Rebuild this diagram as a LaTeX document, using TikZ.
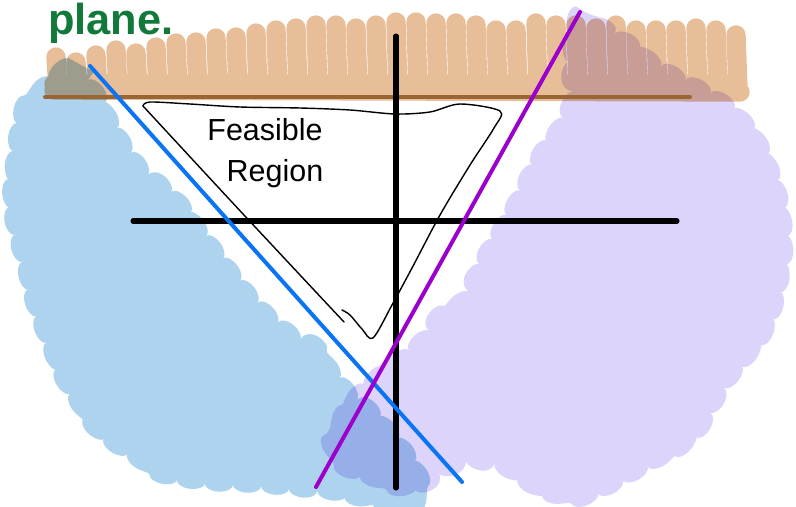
\documentclass[tikz,border=0pt]{standalone}
\usepackage{fontspec}
\setmainfont{Liberation Sans}
\definecolor{skorange}{RGB}{232,190,152}
\definecolor{skblue}{RGB}{174,211,238}
\definecolor{sklilac}{RGB}{220,212,250}
\definecolor{skbrown}{RGB}{153,102,51}
\definecolor{skline}{RGB}{10,116,245}
\definecolor{skpurple}{RGB}{155,0,204}
\definecolor{skgreen}{RGB}{17,122,58}
\usetikzlibrary{positioning,decorations.pathmorphing}
\tikzset{
  scribble/.style={decorate,decoration={bumps,segment length=48pt,amplitude=6pt}},
  penline/.style={line width=3.4pt,line cap=round},
  axisline/.style={black,line width=4.3pt,line cap=round},
  thinpen/.style={black,line width=1.2pt,line cap=round,line join=round}
}

\begin{document}
\begin{tikzpicture}[x=0.03cm,y=-0.03cm]
  \useasboundingbox (0,0) rectangle (796,506);
  \begin{scope}[blend mode=multiply]
    \fill[skblue,scribble] plot[smooth cycle,tension=0.5] coordinates {(70,64) (88,80) (104,106) (134,156) (175,196) (210,241) (250,293) (280,323) (310,341) (345,385) (372,410) (400,442) (422,478) (418,496) (400,502) (367,500) (333,494) (267,487) (213,484) (167,477) (133,457) (100,434) (67,388) (50,351) (33,305) (23,265) (14,232) (10,190) (19,118) (40,88)};
    \fill[sklilac,scribble] plot[smooth cycle,tension=0.5] coordinates {(575,22) (615,34) (660,65) (718,98) (752,130) (776,180) (786,235) (780,290) (764,335) (728,383) (708,418) (685,444) (648,466) (610,487) (584,497) (547,494) (510,473) (470,463) (440,478) (415,488) (385,483) (348,470) (334,450) (341,416) (365,386) (410,349) (430,324) (458,300) (482,258) (515,200) (532,165) (555,130) (566,105)};
    \draw[skorange,line width=16.5pt,line cap=round,line join=round]
      (54,84) -- (738,84) (54,90) -- (740,92)
      \foreach \x/\t in {57/47,77/52,97/45,117/40,137/43,157/37,177/33,197/32,217/28,237/27,257/23,277/20,297/18,317/15,337/15,357/18,377/15,397/12,417/12,437/13,457/13,477/15,497/20,517/20,537/13,557/15,577/15,597/18,617/15,637/20,657/20,677/20,697/18,717/20,737/25}
        { ({\x-1},{\t+10}) -- ({\x+1},90) };
  \end{scope}
  % lines of the sketch
  \draw[skbrown,penline] (45,97) -- (690,97);
  \draw[axisline] (396,36) -- (396,488);
  \draw[axisline] (133,221) -- (677,221);
  \draw[skline,penline] (90,66) -- (462,482);
  \draw[skpurple,penline] (580,12) -- (316,487);
  % feasible region outline
  \draw[thinpen] plot[smooth,tension=0.5] coordinates {(143,106) (150,102) (190,104) (240,107) (300,108) (350,110) (395,114) (430,112) (460,104) (500,111) (494,128) (470,165) (440,215) (412,268) (392,305) (373,338) (362,329) (350,315) (342,310)};
  \draw[thinpen] plot[smooth,tension=0.5] coordinates {(143,106) (230,200) (300,275) (344,322)};
  \node[font=\fontsize{26}{30}\selectfont,inner sep=0pt] (feasible) at (265,130) {Feasible};
  \node[font=\fontsize{26}{30}\selectfont,inner sep=0pt] (region) at (275,174) {Region};
  \node[font=\fontsize{37}{40}\selectfont\bfseries,text=skgreen,inner sep=0pt,anchor=base west] (plane) at (48,34) {plane.};
\end{tikzpicture}
\end{document}
